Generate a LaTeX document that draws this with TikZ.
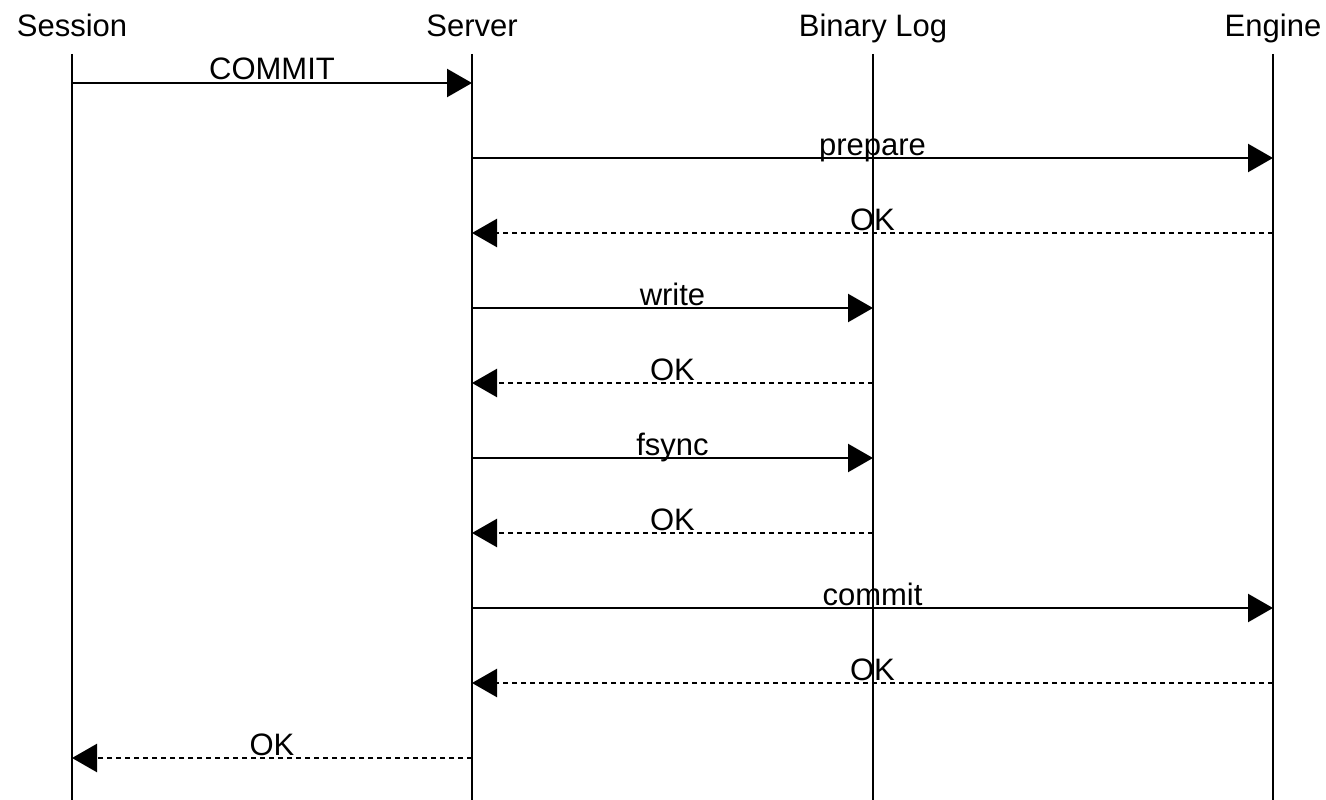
\documentclass[tikz,border=0pt]{standalone}
\usepackage{fontspec}
\setmainfont{Liberation Sans}
\usepackage{tikz}
\usetikzlibrary{arrows.meta}

\begin{document}
\begin{tikzpicture}[x=1pt,y=-1pt,>={Triangle[length=25pt,width=28pt]},
 every node/.style={font=\fontsize{31}{36}\selectfont},
 lifeline/.style={line width=2.4pt},
 call/.style={->,line width=2.4pt},
 reply/.style={->,line width=2.4pt,dash pattern=on 5pt off 4pt},
 msg/.style={anchor=base,inner sep=0pt,yshift=3pt}]
\useasboundingbox (0,0) rectangle (1326,800);
% participants and their lifelines
\foreach \n/\x/\t in {ses/72/Session,srv/472/Server,blog/873/Binary Log,eng/1273/Engine}{
 \node[anchor=base] (\n) at (\x,37) {\t};
 \draw[lifeline] (\n |- 0,54) -- (\n |- 0,800);
}
% messages
\foreach \y/\a/\b/\s/\t in {83/ses/srv/call/COMMIT,158/srv/eng/call/prepare,
 233/eng/srv/reply/OK,308/srv/blog/call/write,383/blog/srv/reply/OK,
 458/srv/blog/call/fsync,533/blog/srv/reply/OK,608/srv/eng/call/commit,
 683/eng/srv/reply/OK,758/srv/ses/reply/OK}
 \draw[\s] (\a |- 0,\y) -- node[msg] {\t} (\b |- 0,\y);
\end{tikzpicture}
\end{document}
